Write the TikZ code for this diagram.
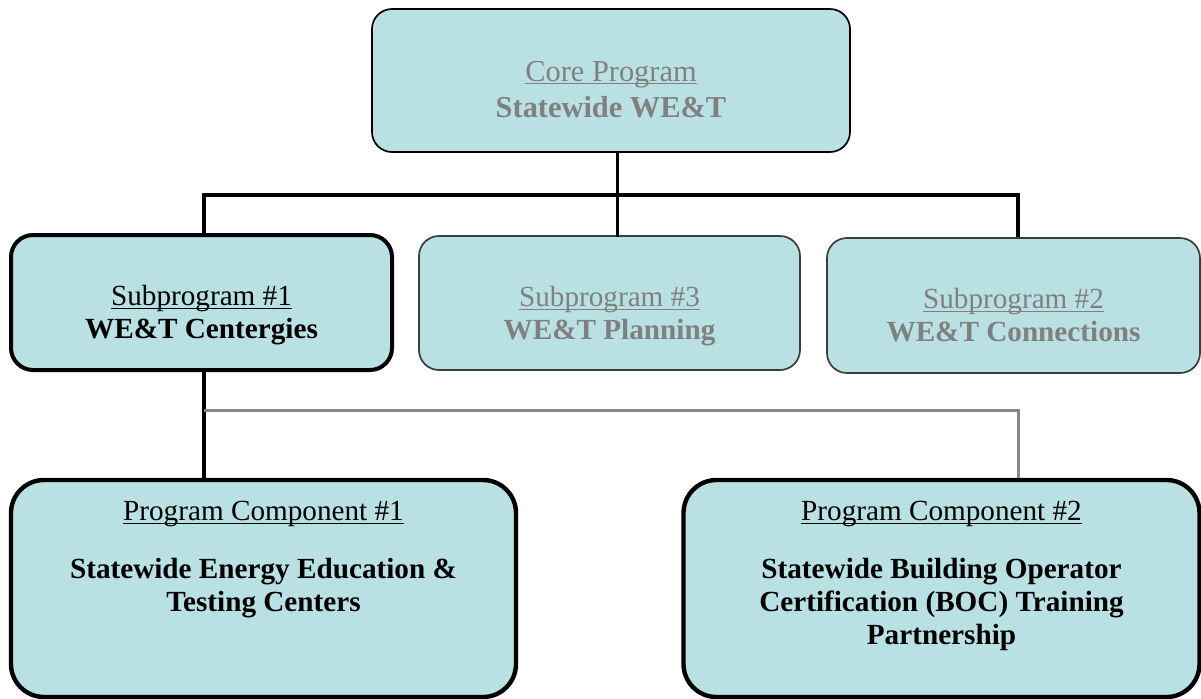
\documentclass[tikz,border=0pt]{standalone}
\usepackage{fontspec}
\setmainfont{Liberation Serif}
\usepackage{xcolor}
\usetikzlibrary{positioning}

\definecolor{boxfill}{HTML}{B9E0E3}
\definecolor{dimtext}{HTML}{808080}
\definecolor{dimline}{HTML}{868686}
\definecolor{softedge}{HTML}{3C3C3C}
\newcommand{\ulword}[1]{\setbox0\hbox{#1}\rlap{\rule[-1.6pt]{\wd0}{0.6pt}}\box0}
\newcommand{\corefont}{\fontsize{15.2}{18}\selectfont}
\newcommand{\subfont}{\fontsize{14.6}{16.5}\selectfont}

\tikzset{
  orgbox/.style={draw, fill=boxfill, inner sep=0pt},
  thinbox/.style={orgbox, line width=0.85pt, rounded corners=10pt},
  heavybox/.style={orgbox, line width=2pt, rounded corners=11pt},
  compbox/.style={orgbox, line width=2.2pt, rounded corners=16.5pt},
  boxtext/.style={inner sep=0pt, align=center, font=\subfont},
  link/.style={line width=1.6pt},
  dimlink/.style={line width=1.5pt, color=dimline}
}

\begin{document}
\begin{tikzpicture}[x=0.5pt,y=-0.5pt]
  \useasboundingbox (0,0) rectangle (1201,698);

  % boxes
  \node[thinbox, minimum width=239pt, minimum height=71.5pt] (core) at (611,80.5) {};
  \node[heavybox, minimum width=190.5pt, minimum height=67.5pt] (sub1) at (201.5,302.5) {};
  \node[thinbox, draw=softedge, minimum width=190.5pt, minimum height=67pt] (sub3) at (609.5,303) {};
  \node[thinbox, draw=softedge, minimum width=186.5pt, minimum height=67.5pt] (sub2) at (1013.5,305.5) {};
  \node[compbox, minimum width=252.5pt, minimum height=108.5pt] (pc1) at (263.5,588.5) {};
  \node[compbox, minimum width=258pt, minimum height=108.5pt] (pc2) at (941.5,588.5) {};

  % texts
  \node[boxtext, font=\corefont, text=dimtext, below=26.2pt of core.north] (coretxt)
    {\ulword{Core Program}\\ \textbf{Statewide WE\&T}};
  \node[boxtext, below=26pt of sub1.north] (sub1txt)
    {\ulword{Subprogram \#1}\\ \textbf{WE\&T Centergies}};
  \node[boxtext, text=dimtext, below=25.5pt of sub3.north] (sub3txt)
    {\ulword{Subprogram \#3}\\ \textbf{WE\&T Planning}};
  \node[boxtext, text=dimtext, below=25.5pt of sub2.north] (sub2txt)
    {\ulword{Subprogram \#2}\\ \textbf{WE\&T Connections}};
  \node[boxtext, below=11.5pt of pc1.north] (pc1txt)
    {\ulword{Program Component \#1}\\[12.5pt]
     \textbf{Statewide Energy Education \&}\\ \textbf{Testing Centers}};
  \node[boxtext, below=11.5pt of pc2.north] (pc2txt)
    {\ulword{Program Component \#2}\\[12.5pt]
     \textbf{Statewide Building Operator}\\ \textbf{Certification (BOC) Training}\\
     \textbf{Partnership}};

  % connectors
  \coordinate (jc) at (617.5,195);
  \coordinate (tl) at (204,195);
  \coordinate (tr) at (1018,195);
  \coordinate (gl) at (204,410);
  \coordinate (gr) at (1018,410);
  \draw[link] (core.south -| jc) -- ([yshift=-1pt]jc |- sub3.north);
  \draw[link] (tl |- sub1.north) -- (tl) -- (tr) -- (tr |- sub2.north);
  \draw[link] (tl |- sub1.south) -- (tl |- pc1.north);
  \draw[dimlink] (gl) -- (gr) -- (gr |- pc2.north);
\end{tikzpicture}
\end{document}
